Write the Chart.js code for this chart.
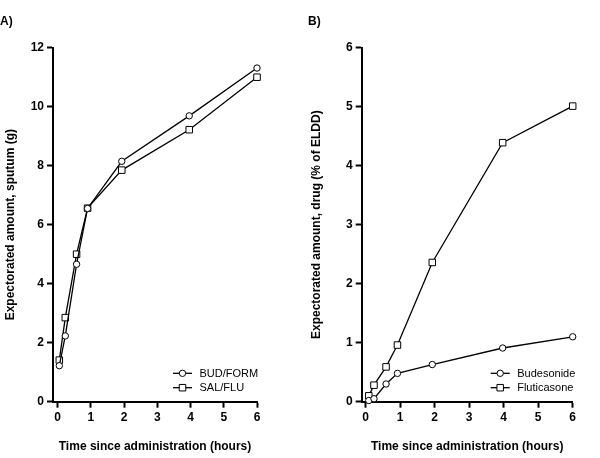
<!DOCTYPE html>
<html>
<head>
<meta charset="utf-8">
<script src="https://cdn.jsdelivr.net/npm/chart.js@4"></script>
<style>
  body { margin: 0; background: #fff; }
  #wrap { position: relative; width: 600px; height: 458px; }
  .panel { position: absolute; top: 0; width: 300px; height: 458px; }
  .tag { position: absolute; top: 14px; font: bold 12px Arial, "Liberation Sans", sans-serif; color: #000; }
</style>
</head>
<body>
<div id="wrap">
  <div class="panel" style="left:0"><canvas id="chartA" width="300" height="458"></canvas></div>
  <div class="panel" style="left:300px"><canvas id="chartB" width="300" height="458"></canvas></div>
  <div class="tag" style="left:0">A)</div>
  <div class="tag" style="left:308px">B)</div>
</div>
<script>
// Panel A: sputum (g)
const timeA = [0.05, 0.23, 0.57, 0.9, 1.93, 3.96, 6];
const budForm = [1.22, 2.23, 4.66, 6.55, 8.15, 9.69, 11.31];
const salFlu = [1.41, 2.85, 5.0, 6.56, 7.85, 9.22, 11.0];

// Panel B: drug (% of ELDD)
const timeB = [0.09, 0.24, 0.59, 0.92, 1.93, 3.97, 6];
const budesonide = [0.02, 0.05, 0.30, 0.48, 0.63, 0.91, 1.10];
const fluticasone = [0.10, 0.28, 0.59, 0.96, 2.36, 4.39, 5.01];

const xTicks = [0, 1, 2, 3, 4, 5, 6];
const yTicksA = [0, 2, 4, 6, 8, 10, 12];
const yTicksB = [0, 1, 2, 3, 4, 5, 6];

const FONT = 'Arial, "Liberation Sans", sans-serif';
const markerRadius = { circle: 3.2, rect: 4.6 };

const toPoints = (xs, ys) => xs.map((x, i) => ({ x: x, y: ys[i] }));

// legend drawn inside the plot, bottom right
const insideLegend = {
    id: 'insideLegend',
    afterDatasetsDraw(chart, args, opts) {
        const { ctx, chartArea } = chart;
        ctx.save();
        chart.data.datasets.forEach((ds, i) => {
            const y = chartArea.bottom + opts.firstRow + i * opts.rowGap;
            const x0 = chartArea.right + opts.left;
            ctx.strokeStyle = '#000';
            ctx.lineWidth = 1.3;
            ctx.beginPath();
            ctx.moveTo(x0, y);
            ctx.lineTo(x0 + 19, y);
            ctx.stroke();
            ctx.fillStyle = '#fff';
            ctx.lineWidth = 1;
            Chart.helpers.drawPoint(ctx, { pointStyle: ds.pointStyle, radius: markerRadius[ds.pointStyle], borderWidth: 1, rotation: 0 }, x0 + 9.5, y);
            ctx.fillStyle = '#000';
            ctx.font = '11px ' + FONT;
            ctx.textBaseline = 'middle';
            ctx.textAlign = 'left';
            ctx.fillText(ds.label, x0 + 26.5, y + 0.5);
        });
        ctx.restore();
    }
};

function makeSeries(label, xs, ys, style) {
    return {
        label: label,
        data: toPoints(xs, ys),
        borderColor: '#000',
        borderWidth: 1.3,
        pointStyle: style,
        pointRadius: markerRadius[style],
        pointBackgroundColor: '#fff',
        pointBorderColor: '#000',
        pointBorderWidth: 1,
        tension: 0,
        clip: false
    };
}

function makeChart(id, datasets, cfg) {
    const ctx = document.getElementById(id).getContext('2d');
    return new Chart(ctx, {
        type: 'line',
        data: { datasets: datasets },
        options: {
            responsive: false,
            animation: false,
            layout: { padding: { top: 47.7, right: cfg.padRight, left: 0, bottom: 0 } },
            plugins: {
                legend: { display: false },
                tooltip: { enabled: false },
                insideLegend: cfg.legend
            },
            scales: {
                x: {
                    type: 'linear',
                    min: cfg.xMin,
                    max: 6,
                    afterBuildTicks: s => { s.ticks = xTicks.map(v => ({ value: v })); },
                    afterFit: s => { s.height = 56.3; },
                    grid: { drawOnChartArea: false, drawTicks: true, tickLength: 6, tickWidth: 2, tickColor: '#000' },
                    border: { display: true, color: '#000', width: 2 },
                    ticks: { color: '#000', padding: 3, maxRotation: 0, autoSkip: false, font: { family: FONT, size: 12, weight: 'bold' } },
                    title: {
                        display: true,
                        text: 'Time since administration (hours)',
                        color: '#000',
                        padding: { top: 0, bottom: 4 },
                        font: { family: FONT, size: 12, weight: 'bold' }
                    }
                },
                y: {
                    min: 0,
                    max: cfg.yMax,
                    afterBuildTicks: s => { s.ticks = cfg.yTicks.map(v => ({ value: v })); },
                    afterFit: s => { s.width = cfg.yWidth; },
                    grid: { drawOnChartArea: false, drawTicks: true, tickLength: 6, tickWidth: 2, tickColor: '#000' },
                    border: { display: true, color: '#000', width: 2 },
                    ticks: { color: '#000', padding: 3, autoSkip: false, font: { family: FONT, size: 12, weight: 'bold' } },
                    title: {
                        display: true,
                        text: cfg.yTitle,
                        color: '#000',
                        padding: { top: cfg.yTitlePad, bottom: 0 },
                        font: { family: FONT, size: 12, weight: 'bold' }
                    }
                }
            }
        },
        plugins: [insideLegend]
    });
}

makeChart('chartA', [
    makeSeries('BUD/FORM', timeA, budForm, 'circle'),
    makeSeries('SAL/FLU', timeA, salFlu, 'rect')
], {
    padRight: 43,
    xMin: -0.14,
    yMax: 12,
    yTicks: yTicksA,
    yWidth: 53,
    yTitle: 'Expectorated amount, sputum (g)',
    yTitlePad: 3,
    legend: { left: -84, firstRow: -28.4, rowGap: 14.4 }
});

makeChart('chartB', [
    makeSeries('Budesonide', timeB, budesonide, 'circle'),
    makeSeries('Fluticasone', timeB, fluticasone, 'rect')
], {
    padRight: 27.3,
    xMin: -0.116,
    yMax: 6,
    yTicks: yTicksB,
    yWidth: 61.7,
    yTitle: 'Expectorated amount, drug (% of ELDD)',
    yTitlePad: 9,
    legend: { left: -82, firstRow: -28.4, rowGap: 14.4 }
});
</script>
</body>
</html>
